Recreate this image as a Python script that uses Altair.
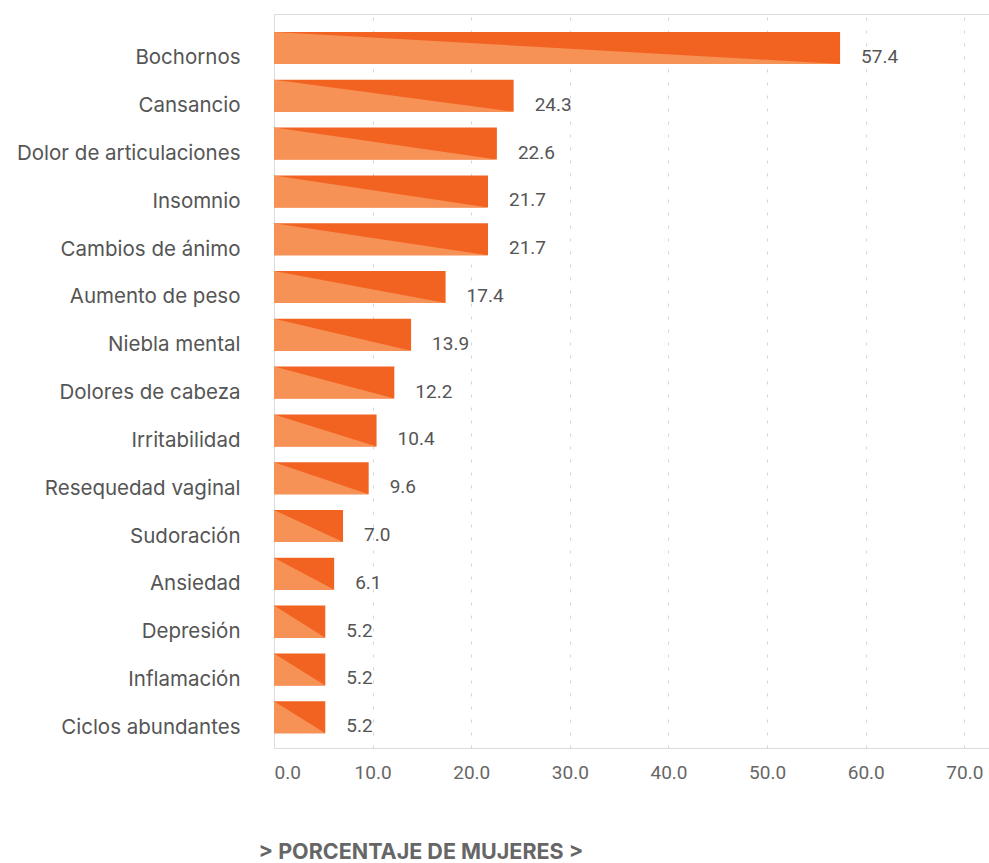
import altair as alt
import pandas as pd

categories = ["Bochornos", "Cansancio", "Dolor de articulaciones", "Insomnio",
              "Cambios de ánimo", "Aumento de peso", "Niebla mental",
              "Dolores de cabeza", "Irritabilidad", "Resequedad vaginal",
              "Sudoración", "Ansiedad", "Depresión", "Inflamación",
              "Ciclos abundantes"]
values = [57.4, 24.3, 22.6, 21.7, 21.7, 17.4, 13.9, 12.2, 10.4, 9.6, 7.0, 6.1, 5.2, 5.2, 5.2]
x_ticks = [0, 10, 20, 30, 40, 50, 60, 70]
x_title = "> PORCENTAJE DE MUJERES >"

DARK = "#F26322"
LIGHT = "#F79256"
HALF = 0.335
FONT = "Roboto"
LFONT = "Inter"

bars = pd.DataFrame({
    "cat": categories,
    "val": values,
    "idx": list(range(len(categories))),
})
bars["top"] = bars["idx"] - HALF
bars["bot"] = bars["idx"] + HALF
bars["label"] = bars["val"].map(lambda v: f"{v:.1f}")

tri_rows = []
for i, (c, v) in enumerate(zip(categories, values)):
    tri_rows.append({"cat": c, "x": 0.0, "y": i - HALF, "y2": i + HALF})
    tri_rows.append({"cat": c, "x": v, "y": i + HALF, "y2": i + HALF})
tri = pd.DataFrame(tri_rows)

names_js = "[" + ",".join('"' + c + '"' for c in categories) + "]"

xscale = alt.Scale(domain=[0, 72.5], nice=False, zero=False)
yscale = alt.Scale(domain=[-0.711, 14.644], nice=False, zero=False, reverse=True)

x_axis = alt.Axis(values=x_ticks, format=".1f", grid=True, gridDash=[3, 10],
                  gridColor="#d4d4d4", ticks=False, domainColor="#dcdce0",
                  labelFont=FONT, labelFontSize=19, labelColor="#666666",
                  labelPadding=15, title=x_title, titleFont=LFONT,
                  titleFontSize=21.5, titleFontWeight="bold", titleColor="#666666",
                  titleAnchor="start", titleAlign="left", titleX=-16, titleY=110,
                  titleBaseline="alphabetic")
y_axis = alt.Axis(values=list(range(len(categories))), grid=False, ticks=False,
                  domainColor="#dcdce0", labelExpr=names_js + "[datum.value]",
                  labelFont=LFONT, labelFontSize=20.5, labelColor="#555555",
                  labelPadding=34, labelOffset=10, labelLimit=0, title=None)

rect = alt.Chart(bars).mark_rect(color=DARK).encode(
    x=alt.X("val:Q", scale=xscale, axis=x_axis),
    x2=alt.datum(0),
    y=alt.Y("top:Q", scale=yscale, axis=y_axis),
    y2="bot:Q",
)

area = alt.Chart(tri).mark_area(color=LIGHT, opacity=1).encode(
    x=alt.X("x:Q", scale=xscale),
    y=alt.Y("y:Q", scale=yscale),
    y2="y2:Q",
    detail="cat:N",
)

text = alt.Chart(bars).mark_text(align="left", baseline="middle", dx=21, dy=9,
                                 font=FONT, fontSize=19, color="#555555").encode(
    x=alt.X("val:Q", scale=xscale),
    y=alt.Y("idx:Q", scale=yscale),
    text="label:N",
)

chart = alt.layer(rect, area, text).properties(
    width=715, height=734,
    autosize=alt.AutoSizeParams(type="none"),
    padding={"left": 274, "top": 14, "right": 0, "bottom": 115},
).configure_view(stroke=None).configure(background="white")

chart.save("out.html", embed_options={"renderer": "svg", "actions": False})
